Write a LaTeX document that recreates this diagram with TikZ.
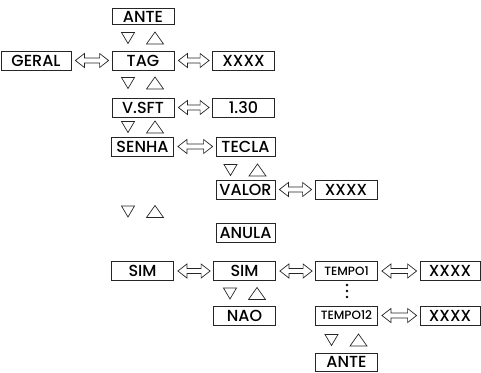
\documentclass[tikz,border=0pt]{standalone}
\usepackage{fontspec}
\setmainfont{Poppins Medium}
\usetikzlibrary{calc}
\newcommand\dar[2]{\path[arr] let \p1=($(#1.east)+(4,0)$), \p2=($(#2.west)-(3,0)$) in
  (\x1,\y1) -- (\x1+9pt,\y1+7pt) -- (\x1+9pt,\y1+2.5pt) -- (\x2-9pt,\y1+2.5pt) -- (\x2-9pt,\y1+7pt)
  -- (\x2,\y1) -- (\x2-9pt,\y1-7pt) -- (\x2-9pt,\y1-2.5pt) -- (\x1+9pt,\y1-2.5pt) -- (\x1+9pt,\y1-7pt) -- cycle;}
\newcommand\ud[2]{\draw[tri] (#1-21.5,#2-5.5) -- (#1-8.5,#2-5.5) -- (#1-15,#2+5.5) -- cycle;
  \draw[tri] (#1+3.5,#2+6) -- (#1+20.5,#2+6) -- (#1+12,#2-6) -- cycle;}
\begin{document}
\begin{tikzpicture}[x=1pt,y=-1pt,
  box/.style={draw=black!85, line width=0.8pt, inner sep=0pt, minimum height=19pt,
    font=\fontsize{16}{16}\selectfont},
  w62/.style={minimum width=62pt},
  small/.style={font=\fontsize{12}{12}\selectfont},
  arr/.style={draw=black!85, line width=0.7pt, fill=white},
  tri/.style={draw=black!85, line width=0.7pt}]
\useasboundingbox (0,0) rectangle (481,372);
\node[box, w62, minimum height=16pt] (ante1) at (143,16.5) {ANTE};
\node[box, minimum width=70pt] (geral) at (36,60.5) {GERAL};
\node[box, w62] (tag) at (143,60.5) {TAG};
\node[box, w62] (x1) at (243.5,60.5) {XXXX};
\node[box, w62] (vsft) at (143,107.5) {V.SFT};
\node[box, w62] (v130) at (243.5,107.5) {1.30};
\node[box, w62] (senha) at (142.5,146.5) {SENHA};
\node[box, minimum width=59pt] (tecla) at (245.5,146.5) {TECLA};
\node[box, minimum width=59pt] (valor) at (245.5,189.5) {VALOR};
\node[box, w62] (x2) at (346,189.5) {XXXX};
\node[box, minimum width=59pt] (anula) at (245.5,233) {ANULA};
\node[box, w62] (sim1) at (142.5,271) {SIM};
\node[box, w62] (sim2) at (244.5,271) {SIM};
\node[box, w62, small] (t1) at (346.5,271) {TEMPO1};
\node[box, minimum width=60pt] (x3) at (450,271) {XXXX};
\node[box, w62] (nao) at (244.5,315.5) {NAO};
\node[box, w62, small] (t12) at (346.5,315.5) {TEMPO12};
\node[box, minimum width=60pt] (x4) at (450,315.5) {XXXX};
\node[box, w62, minimum height=18pt] (ante2) at (346.5,362) {ANTE};
\dar{geral}{tag}
\dar{tag}{x1}
\dar{vsft}{v130}
\dar{senha}{tecla}
\dar{valor}{x2}
\dar{sim1}{sim2}
\dar{sim2}{t1}
\dar{t1}{x3}
\dar{t12}{x4}
\ud{143}{38}
\ud{143}{83}
\ud{143}{127}
\ud{245.5}{170}
\ud{143}{211.5}
\ud{245}{293.5}
\ud{346.5}{340}
\foreach \yy in {285,291,297} \fill (347,\yy) circle (1.4pt);
\end{tikzpicture}
\end{document}
